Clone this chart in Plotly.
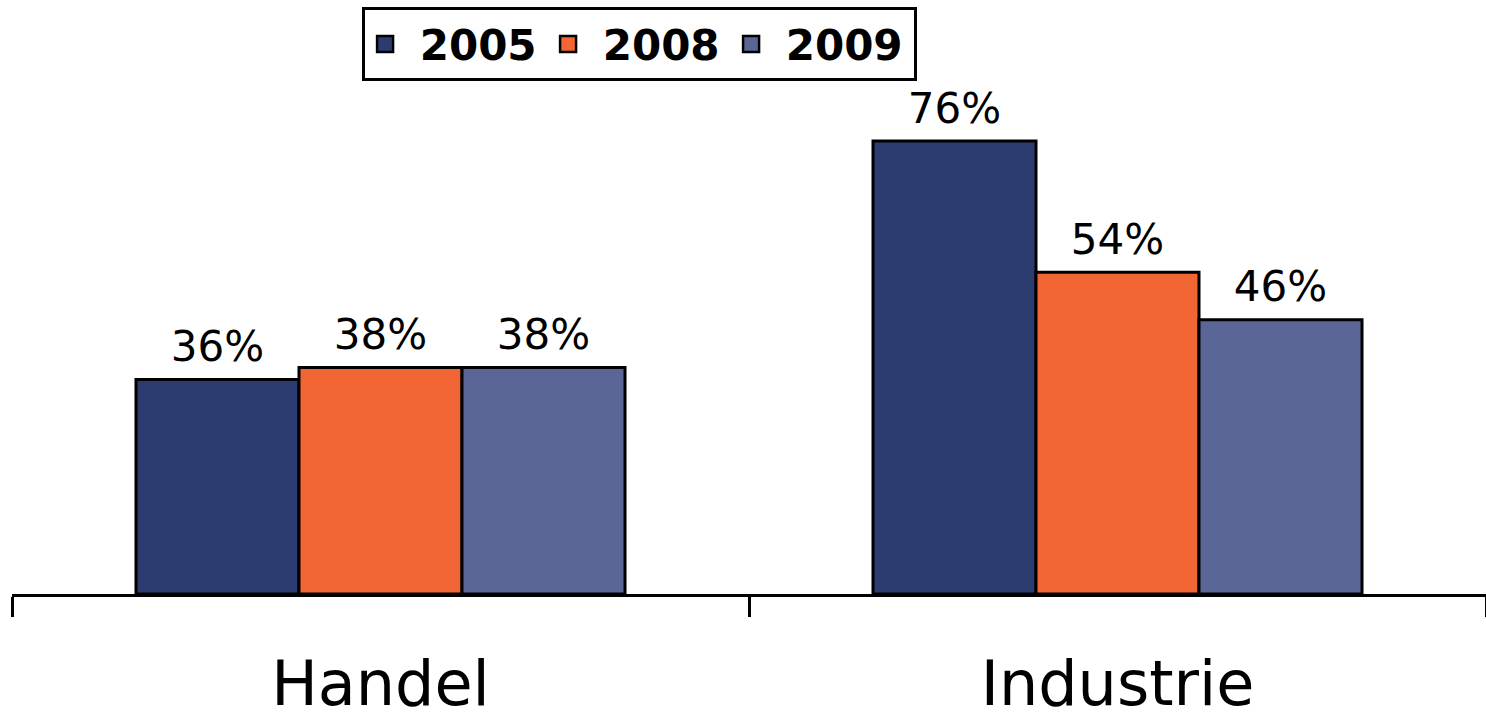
import plotly.graph_objects as go

categories = ["Handel", "Industrie"]
years = ["2005", "2008", "2009"]
values_2005 = [36, 76]
values_2008 = [38, 54]
values_2009 = [38, 46]
colors = ["#2C3C71", "#F26535", "#5A6796"]

series = [values_2005, values_2008, values_2009]

fig = go.Figure()
for name, vals, col in zip(years, series, colors):
    fig.add_trace(go.Bar(
        x=categories, y=vals, name=name, offsetgroup=name,
        marker=dict(color=col, line=dict(color="black", width=3)),
        showlegend=False,
    ))
# value labels, grouped like the bars
for name, vals in zip(years, series):
    fig.add_trace(go.Scatter(
        x=categories, y=vals, mode="markers+text", offsetgroup=name,
        text=[f"{v}%" for v in vals], textposition="top center",
        textfont=dict(family="DejaVu Sans", size=42, color="black"),
        marker=dict(size=11, opacity=0), cliponaxis=False, showlegend=False,
        hoverinfo="skip",
    ))
# legend entries
for name, col in zip(years, colors):
    fig.add_trace(go.Scatter(
        x=[None], y=[None], mode="markers", name="\u00a0" + name, offsetgroup=name,
        marker=dict(symbol="square", size=16, color=col, line=dict(color="black", width=2.5)),
        showlegend=True,
    ))

fig.update_layout(
    width=1486, height=712,
    margin=dict(l=12, r=0, t=0, b=118, autoexpand=False),
    paper_bgcolor="white", plot_bgcolor="white",
    barmode="group", bargap=0.3365, bargroupgap=0,
    scattermode="group", scattergap=0.3365,
    font=dict(family="DejaVu Sans", color="black"),
    legend=dict(
        orientation="h", x=0.2375, y=0.988, xanchor="left", yanchor="top",
        font=dict(family="DejaVu Sans", size=42, color="black", weight="bold"),
        bordercolor="black", borderwidth=3, bgcolor="white",
        itemsizing="trace", tracegroupgap=0,
        entrywidth=138, entrywidthmode="pixels",
    ),
    xaxis=dict(
        showline=True, linecolor="black", linewidth=3,
        ticks="outside", tickson="boundaries", ticklen=20, tickwidth=3, tickcolor="black",
        tickfont=dict(family="DejaVu Sans", size=62, color="black"),
        showgrid=False, zeroline=False, ticklabelstandoff=34, automargin=False,
    ),
    yaxis=dict(
        range=[0, 99.66], visible=False, showgrid=False, zeroline=False, automargin=False,
    ),
)

fig.write_html(
    "out.html",
    config={"displayModeBar": False},
    post_script="document.body.style.margin='0';document.body.style.overflow='hidden';",
)
